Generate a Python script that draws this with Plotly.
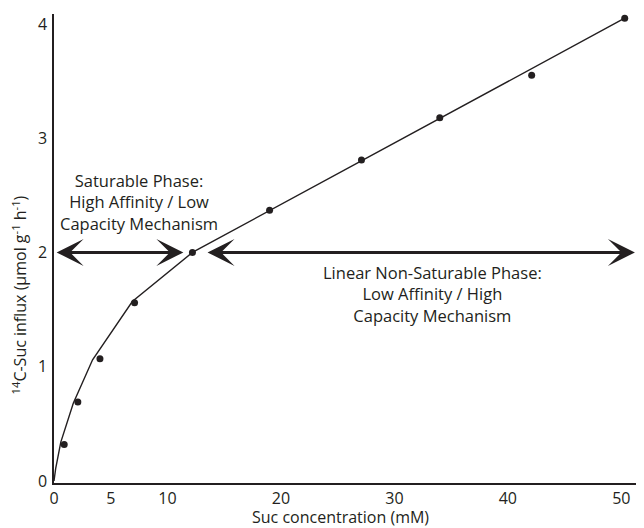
import plotly.graph_objects as go

# Measured data points
conc = [0.9, 2.1, 4.05, 7.1, 12.2, 19.0, 27.1, 34.0, 42.1, 50.3]
influx = [0.32, 0.69, 1.07, 1.56, 2.0, 2.37, 2.81, 3.18, 3.55, 4.05]

# Fitted curve (as drawn)
fit_conc = [0, 0.15, 0.6, 1.7, 3.4, 6.9, 12.2, 50.3]
fit_influx = [0, 0.11, 0.34, 0.68, 1.06, 1.57, 2.0, 4.05]

x_ticks = [0, 5, 10, 20, 30, 40, 50]
y_ticks = [0, 1, 2, 3, 4]

# Phase arrows
sat_arrow_x = [0.1, 11.4]
lin_arrow_x = [13.4, 51.2]
arrow_y = 2.0

sat_text = "Saturable Phase:<br>High Affinity / Low<br>Capacity Mechanism"
lin_text = "Linear Non-Saturable Phase:<br>Low Affinity / High<br>Capacity Mechanism"
sat_text_pos = (7.5, 2.44)
lin_text_pos = (33.4, 1.64)

x_title = "Suc concentration (mM)"
y_title = "<sup>14</sup>C-Suc influx (µmol g<sup>-1</sup> h<sup>-1</sup>)"

INK = "#231f20"
FONT = "Open Sans"

fig = go.Figure()
fig.add_trace(go.Scatter(x=fit_conc, y=fit_influx, mode="lines",
                         line=dict(color=INK, width=1.4), hoverinfo="skip",
                         showlegend=False))
fig.add_trace(go.Scatter(x=conc, y=influx, mode="markers",
                         marker=dict(color=INK, size=7), showlegend=False))

for xs in (sat_arrow_x, lin_arrow_x):
    fig.add_annotation(x=xs[1], y=arrow_y, ax=xs[0], ay=arrow_y,
                       xref="x", yref="y", axref="x", ayref="y",
                       text="", showarrow=True, arrowhead=3, startarrowhead=3,
                       arrowside="end+start", arrowwidth=3, arrowsize=1.5,
                       startarrowsize=1.5, arrowcolor=INK, standoff=0, startstandoff=0)

for txt, pos in ((sat_text, sat_text_pos), (lin_text, lin_text_pos)):
    fig.add_annotation(x=pos[0], y=pos[1], xref="x", yref="y", text=txt,
                       showarrow=False, align="center",
                       font=dict(family=FONT, size=16.5, color=INK))

# Axis titles placed as annotations relative to the plot area
fig.add_annotation(x=0.486, y=-0.0725, xref="paper", yref="paper", text=x_title,
                   xanchor="center", yanchor="middle",
                   showarrow=False, font=dict(family=FONT, size=16, color=INK))
fig.add_annotation(x=-0.0576, y=0.40, xref="paper", yref="paper", text=y_title,
                   xanchor="center", yanchor="middle",
                   textangle=-90, showarrow=False,
                   font=dict(family=FONT, size=16, color=INK))

# The page body adds an 8px offset; figure sized to fill the rest of the window
fig.update_layout(
    width=636, height=520,
    margin=dict(l=46, r=0, t=6, b=45),
    plot_bgcolor="white", paper_bgcolor="white",
    font=dict(family=FONT, size=16, color=INK),
    xaxis=dict(range=[0, 52], tickvals=x_ticks, ticks="", showgrid=False,
               zeroline=False, showline=True, linecolor=INK, linewidth=2,
               tickfont=dict(size=16), ticklabelstandoff=0, automargin=False),
    yaxis=dict(range=[-0.018, 4.087], tickvals=y_ticks, ticks="", showgrid=False,
               zeroline=False, showline=True, linecolor=INK, linewidth=1.5,
               tickfont=dict(size=16), ticklabelstandoff=2, automargin=False),
)

fig.write_html("out.html")
